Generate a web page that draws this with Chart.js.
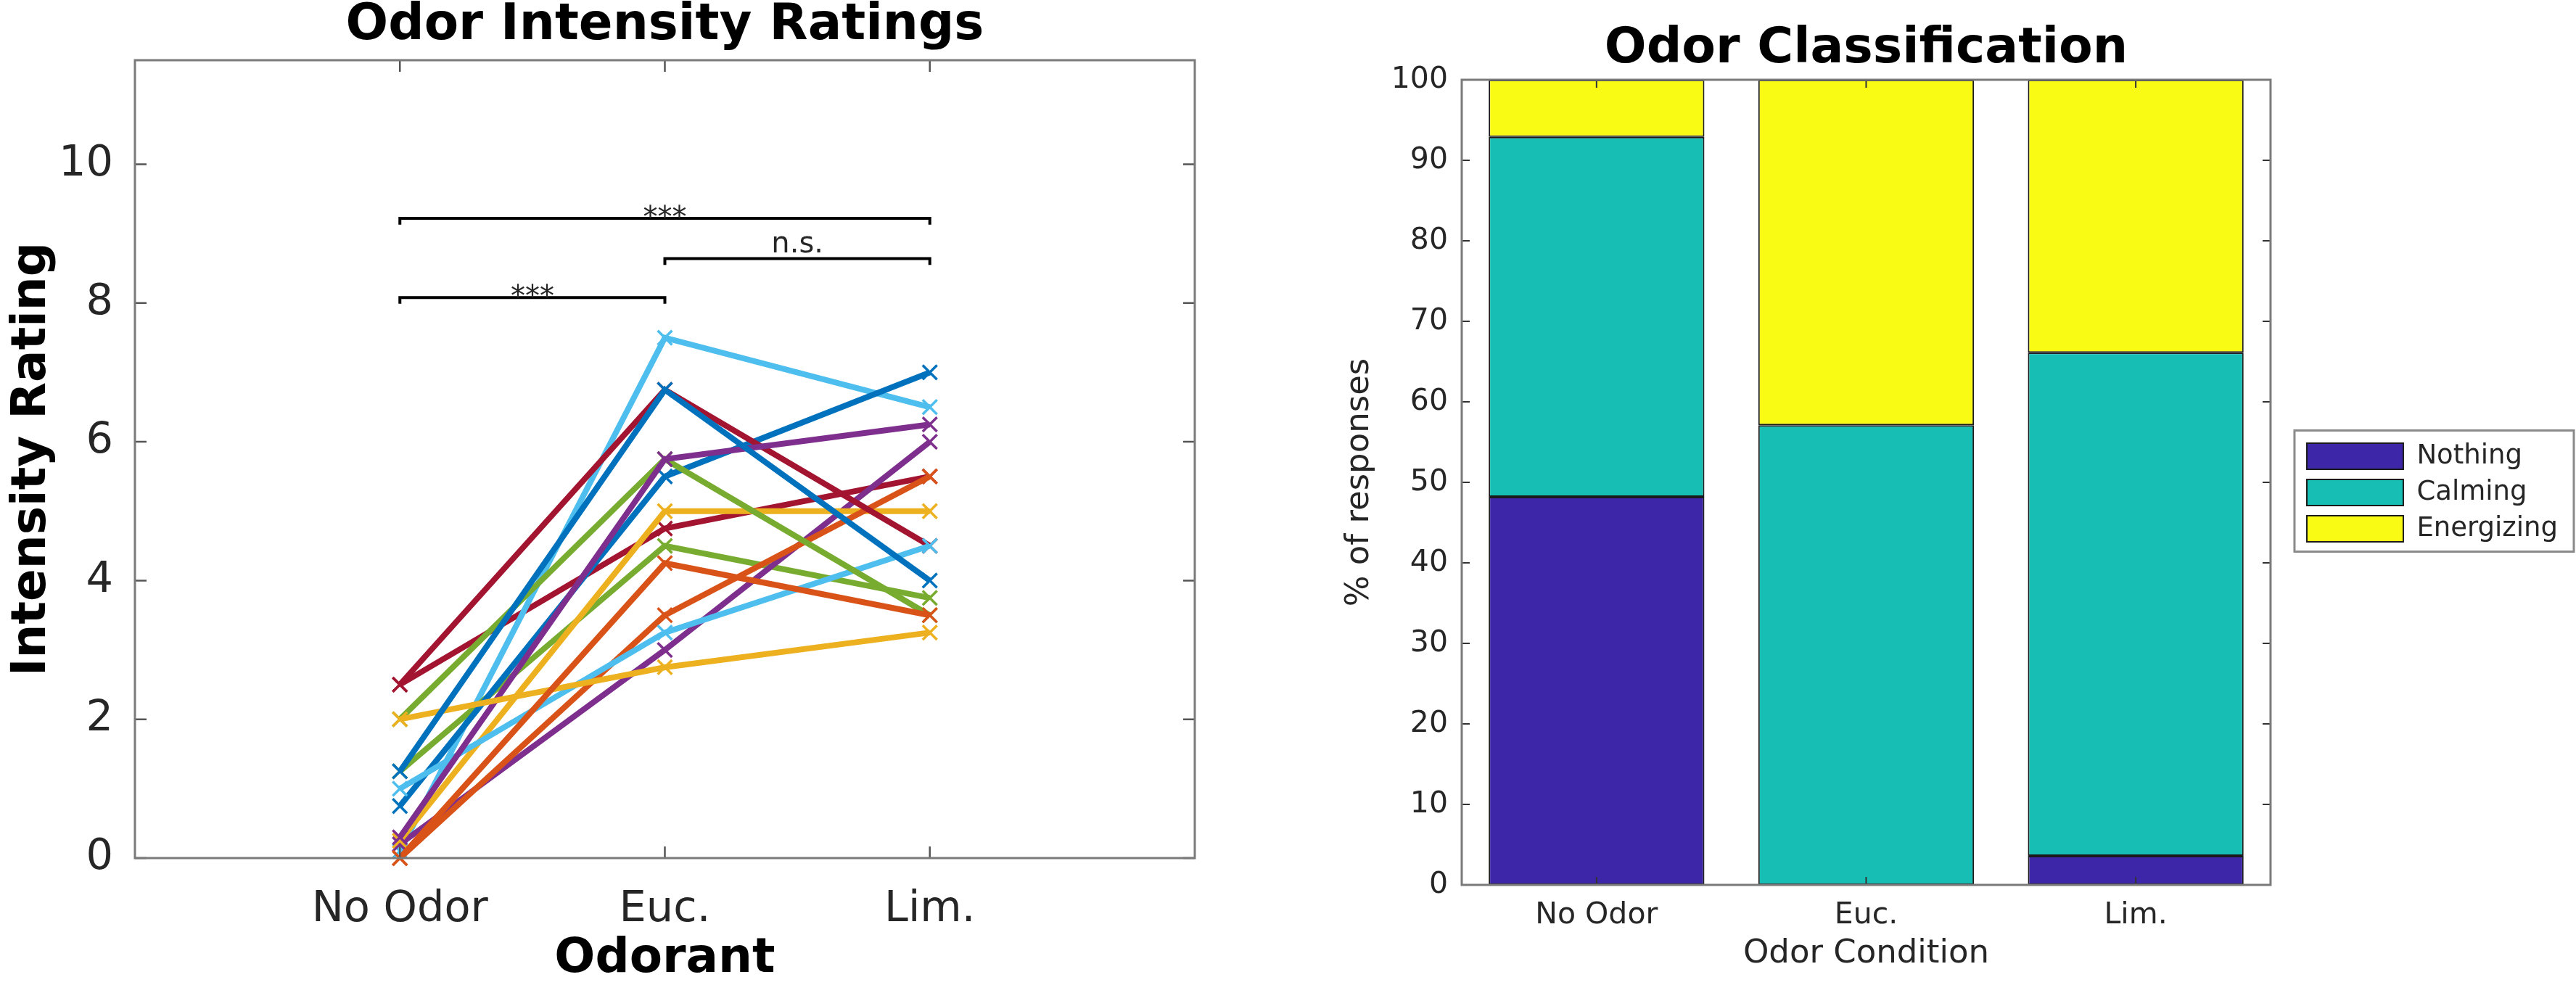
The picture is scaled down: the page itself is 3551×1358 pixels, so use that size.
<!DOCTYPE html>
<html><head><meta charset="utf-8">
<script src="https://cdn.jsdelivr.net/npm/chart.js@4.4.1/dist/chart.umd.min.js"></script>
<style>
html,body{margin:0;padding:0;background:#fff;width:3551px;height:1358px;overflow:hidden;position:relative}
canvas{position:absolute;top:0}
#c1{left:0}
#c2{left:1000px}
</style></head><body>
<canvas id="c1" width="1700" height="1358"></canvas>
<canvas id="c2" width="2551" height="1358"></canvas>
<script>
// ---------- data ----------
const odorants = ['No Odor', 'Euc.', 'Lim.'];
const intensityTicks = [0, 2, 4, 6, 8, 10];
const percentTicks = [0, 10, 20, 30, 40, 50, 60, 70, 80, 90, 100];
const subjectColors = ['#0072BD', '#D95319', '#EDB120', '#7E2F8E', '#77AC30', '#4DBEEE', '#A2142F'];
// intensity ratings per subject: [No Odor, Euc., Lim.]
const s01 = [1.25, 6.75, 4.0];
const s02 = [0.0, 4.25, 3.5];
const s03 = [2.0, 2.75, 3.25];
const s04 = [0.3, 5.75, 6.25];
const s05 = [2.0, 5.75, 3.5];
const s06 = [1.0, 3.25, 4.5];
const s07 = [2.5, 6.75, 4.5];
const s08 = [0.75, 5.5, 7.0];
const s09 = [0.0, 3.5, 5.5];
const s10 = [0.25, 5.0, 5.0];
const s11 = [0.2, 3.0, 6.0];
const s12 = [1.25, 4.5, 3.75];
const s13 = [0.1, 7.5, 6.5];
const s14 = [2.5, 4.75, 5.5];
const subjects = [s01, s02, s03, s04, s05, s06, s07, s08, s09, s10, s11, s12, s13, s14];
// significance brackets
const bracketFrom = [1, 2, 1];
const bracketTo = [2, 3, 3];
const bracketLevel = [8.08, 8.64, 9.22];
const bracketLabel = ['***', 'n.s.', '***'];
const bracketDrop = 0.09;
// classification (% of responses)
const classNames = ['Nothing', 'Calming', 'Energizing'];
const nothingPct = [48.2, 0.0, 3.6];
const calmingPct = [44.7, 57.1, 62.5];
const energizingPct = [7.1, 42.9, 33.9];
const classColors = ['#3E26A8', '#17BEB4', '#F9FB15'];

Chart.defaults.font.family = "'DejaVu Sans', sans-serif";
Chart.defaults.color = '#262626';

const boxPlugin = {
  id: 'boxTicks',
  afterDatasetsDraw(chart, args, opts) {
    const {ctx, chartArea: {left, right, top, bottom}} = chart;
    const xs = chart.scales.x, ys = chart.scales.y;
    ctx.save();
    ctx.strokeStyle = opts.tickColor; ctx.lineWidth = opts.tickWidth;
    ctx.beginPath();
    xs.ticks.forEach((t, i) => {
      const px = xs.getPixelForTick(i);
      ctx.moveTo(px, bottom); ctx.lineTo(px, bottom - opts.len);
      ctx.moveTo(px, top); ctx.lineTo(px, top + opts.len);
    });
    ys.ticks.forEach((t, i) => {
      const py = ys.getPixelForTick(i);
      ctx.moveTo(left, py); ctx.lineTo(left + opts.len, py);
      ctx.moveTo(right, py); ctx.lineTo(right - opts.len, py);
    });
    ctx.stroke();
    ctx.strokeStyle = opts.color; ctx.lineWidth = opts.width;
    ctx.strokeRect(left, top, right - left, bottom - top);
    ctx.restore();
  }
};

const sigPlugin = {
  id: 'sigLabels',
  afterDatasetsDraw(chart) {
    const {ctx} = chart;
    const xs = chart.scales.x, ys = chart.scales.y;
    ctx.save();
    ctx.fillStyle = '#262626';
    ctx.font = "40px 'DejaVu Sans'";
    ctx.textAlign = 'center';
    ctx.textBaseline = 'alphabetic';
    bracketLabel.forEach((lab, i) => {
      const px = xs.getPixelForValue((bracketFrom[i] + bracketTo[i]) / 2);
      const py = ys.getPixelForValue(bracketLevel[i]);
      ctx.fillText(lab, px, lab === '***' ? py + 12 : py - 9);
    });
    ctx.restore();
  }
};

const legendFramePlugin = {
  id: 'legendFrame',
  afterDraw(chart) {
    const hb = chart.legend && chart.legend.legendHitBoxes;
    if (!hb || !hb.length) return;
    const {ctx} = chart;
    const l = Math.min(...hb.map(b => b.left)) - 17;
    const t = Math.min(...hb.map(b => b.top)) - 17;
    const r = Math.max(...hb.map(b => b.left + b.width)) + 22;
    const b = Math.max(...hb.map(b => b.top + b.height)) + 13;
    ctx.save();
    ctx.strokeStyle = '#8a8a8a'; ctx.lineWidth = 3;
    ctx.strokeRect(l, t, r - l, b - t);
    ctx.restore();
  }
};

// ---------- left chart ----------
const lineSets = subjects.map((vals, i) => ({
  data: vals.map((v, j) => ({x: j + 1, y: v})),
  borderColor: subjectColors[i % subjectColors.length],
  backgroundColor: subjectColors[i % subjectColors.length],
  borderWidth: 8,
  pointStyle: 'crossRot',
  pointRadius: 14,
  pointBorderWidth: 3.5,
  tension: 0,
  clip: false
}));
const bracketSets = bracketLevel.map((lv, i) => ({
  data: [
    {x: bracketFrom[i], y: lv - bracketDrop}, {x: bracketFrom[i], y: lv},
    {x: bracketTo[i], y: lv}, {x: bracketTo[i], y: lv - bracketDrop}
  ],
  borderColor: '#000', borderWidth: 4, pointRadius: 0, tension: 0, clip: false
}));

new Chart(document.getElementById('c1'), {
  type: 'line',
  data: {datasets: [...lineSets, ...bracketSets]},
  plugins: [boxPlugin, sigPlugin],
  options: {
    responsive: false, animation: false, devicePixelRatio: 1,
    layout: {padding: {left: 0, right: 53, top: 0, bottom: 0}},
    plugins: {
      legend: {display: false}, tooltip: {enabled: false},
      title: {display: true, text: 'Odor Intensity Ratings', color: '#000', fullSize: false,
        font: {size: 69, weight: 'bold', lineHeight: 1.0}, padding: {top: 2, bottom: 12}},
      boxTicks: {color: '#7a7a7a', width: 3, tickColor: '#555', tickWidth: 2.5, len: 16}
    },
    scales: {
      x: {type: 'linear', min: 0, max: 4,
        afterBuildTicks: s => { s.ticks = odorants.map((n, i) => ({value: i + 1})); },
        afterFit: s => { s.height = 175; },
        ticks: {callback: v => odorants[Math.round(v) - 1], font: {size: 59}, color: '#262626', padding: 36, maxRotation: 0, autoSkip: false},
        grid: {display: false, drawTicks: false}, border: {display: false},
        title: {display: true, text: 'Odorant', color: '#000', font: {size: 66, weight: 'bold', lineHeight: 1.0}, padding: {top: 0, bottom: 2}}
      },
      y: {type: 'linear', min: 0, max: 11.5,
        afterBuildTicks: s => { s.ticks = intensityTicks.map(v => ({value: v})); },
        afterFit: s => { s.width = 186; },
        ticks: {font: {size: 59}, color: '#262626', padding: 30},
        grid: {display: false, drawTicks: false}, border: {display: false},
        title: {display: true, text: 'Intensity Rating', color: '#000', font: {size: 66, weight: 'bold', lineHeight: 1.0}, padding: {top: 12, bottom: 0}}
      }
    }
  }
});

// ---------- right chart ----------
const pctSets = [nothingPct, calmingPct, energizingPct].map((vals, i) => ({
  label: classNames[i], data: vals,
  backgroundColor: classColors[i], borderColor: '#1a1a1a', borderWidth: 2, borderSkipped: false,
  categoryPercentage: 0.8, barPercentage: 1.0
}));

new Chart(document.getElementById('c2'), {
  type: 'bar',
  data: {labels: odorants, datasets: pctSets},
  plugins: [boxPlugin, legendFramePlugin],
  options: {
    responsive: false, animation: false, devicePixelRatio: 1,
    layout: {padding: {left: 0, right: 15, top: 0, bottom: 0}},
    plugins: {
      tooltip: {enabled: false},
      legend: {position: 'right', align: 'center',
        labels: {boxWidth: 133, boxHeight: 36, padding: 13, font: {size: 37}, color: '#262626'}},
      title: {display: true, text: 'Odor Classification', color: '#000', fullSize: false,
        font: {size: 68, weight: 'bold', lineHeight: 1.0}, padding: {top: 34, bottom: 8}},
      boxTicks: {color: '#7a7a7a', width: 3, tickColor: '#333', tickWidth: 2, len: 11}
    },
    scales: {
      x: {stacked: true,
        afterFit: s => { s.height = 138; },
        ticks: {font: {size: 41}, color: '#262626', padding: 18, maxRotation: 0},
        grid: {display: false, drawTicks: false}, border: {display: false},
        title: {display: true, text: 'Odor Condition', color: '#262626', font: {size: 45, lineHeight: 1.0}, padding: {top: 0, bottom: 20}}
      },
      y: {stacked: true, min: 0, max: 100,
        afterBuildTicks: s => { s.ticks = percentTicks.map(v => ({value: v})); },
        afterFit: s => { s.width = 1015; },
        ticks: {font: {size: 41}, color: '#262626', padding: 19},
        grid: {display: false, drawTicks: false}, border: {display: false},
        title: {display: true, text: '% of responses', color: '#262626', font: {size: 45, lineHeight: 1.0}, padding: {top: 852, bottom: 0}}
      },
      y2: {position: 'right', min: 0, max: 100,
        afterFit: s => { s.width = 37; },
        ticks: {display: false}, grid: {display: false, drawTicks: false}, border: {display: false}
      }
    }
  }
});
</script>
</body></html>
